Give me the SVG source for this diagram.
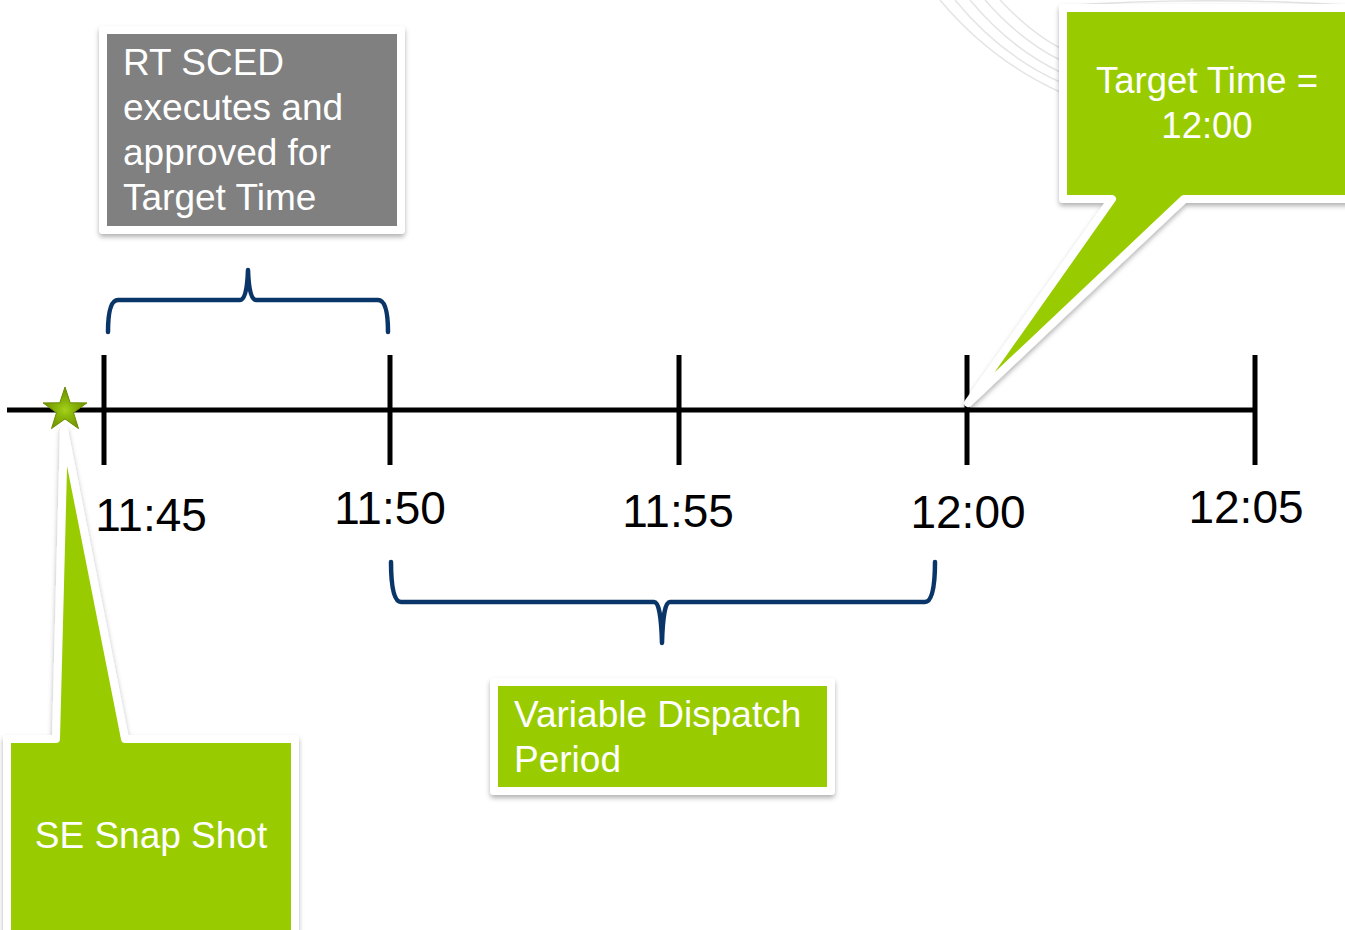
<svg xmlns="http://www.w3.org/2000/svg" width="1345" height="930" viewBox="0 0 1345 930">
  <style>
    .lbl { font-family: "Liberation Sans", Arial, sans-serif; }
    .tick { font-size: 46px; fill: #000; text-anchor: middle; }
    .wt { fill: #fff; font-size: 37px; }
    .box { stroke: #fff; stroke-width: 8; stroke-linejoin: round; filter: url(#sh); }
    .axis { stroke: #000; stroke-width: 5; fill: none; }
    .brace { stroke: #0a3569; stroke-width: 4.5; fill: none; stroke-linecap: round; stroke-linejoin: round; }
    .arc { stroke: #e4e4e4; stroke-width: 1.5; fill: none; }
  </style>
  <defs>
    <filter id="sh" x="-10%" y="-10%" width="120%" height="130%">
      <feDropShadow dx="0" dy="3" stdDeviation="2.5" flood-color="#000" flood-opacity="0.3"/>
    </filter>
    <radialGradient id="starg" cx="0.5" cy="0.55" r="0.5">
      <stop offset="0" stop-color="#a6d21a"/>
      <stop offset="0.35" stop-color="#8cb80c"/>
      <stop offset="1" stop-color="#6f9300"/>
    </radialGradient>
  </defs>
  <rect width="1345" height="930" fill="#fff"/>
  <g id="background">
    <path class="arc" d="M940,0 Q990,60 1060,92"/>
    <path class="arc" d="M955,0 Q1000,55 1060,82"/>
    <path class="arc" d="M970,0 Q1010,48 1060,72"/>
    <path class="arc" d="M985,0 Q1020,40 1060,60"/>
    <path class="arc" d="M1000,0 Q1030,32 1060,48"/>
    <path class="arc" d="M1060,6 Q1200,-4 1345,5"/>
  </g>
  <g id="connectors">
    <line class="axis" x1="7" y1="410" x2="1257" y2="410"/>
    <line class="axis" x1="104" y1="355" x2="104" y2="465"/>
    <line class="axis" x1="390" y1="355" x2="390" y2="465"/>
    <line class="axis" x1="679" y1="355" x2="679" y2="465"/>
    <line class="axis" x1="967" y1="355" x2="967" y2="465"/>
    <line class="axis" x1="1255" y1="355" x2="1255" y2="465"/>
    <path class="brace" d="M108,332 Q108,300 118,300 L240,300 Q247,300 248,270 Q249,300 256,300 L378,300 Q388,300 388,332"/>
    <path class="brace" d="M391,562 Q391,602 401,602 L654,602 Q661,602 662,643 Q663,602 670,602 L925,602 Q935,602 935,562"/>
  </g>
  <g id="tick-labels" class="lbl">
    <text class="tick" x="151" y="531">11:45</text>
    <text class="tick" x="390" y="524">11:50</text>
    <text class="tick" x="678" y="527">11:55</text>
    <text class="tick" x="968" y="528">12:00</text>
    <text class="tick" x="1246" y="523">12:05</text>
  </g>
  <g id="rt-sced">
    <rect class="box" x="103" y="30" width="298" height="200" fill="#808080"/>
    <text class="lbl wt" x="123" y="75">RT SCED</text>
    <text class="lbl wt" x="123" y="120">executes and</text>
    <text class="lbl wt" x="123" y="165">approved for</text>
    <text class="lbl wt" x="123" y="210">Target Time</text>
  </g>
  <g id="variable-dispatch">
    <rect class="box" x="494" y="682" width="337" height="109" fill="#99cc00"/>
    <text class="lbl wt" x="514" y="727">Variable Dispatch</text>
    <text class="lbl wt" x="514" y="772">Period</text>
  </g>
  <g id="target-time">
    <path class="box" d="M1063,8 L1360,8 L1360,199 L1184,199 L968,403 L1112,199 L1063,199 Z" fill="#99cc00"/>
    <text class="lbl wt" x="1207" y="93" text-anchor="middle" style="font-size:36.5px">Target Time =</text>
    <text class="lbl wt" x="1207" y="138" text-anchor="middle" style="font-size:36.5px">12:00</text>
  </g>
  <g id="se-snap-shot">
    <path class="box" d="M7,739 L56,739 L64,430 L125,739 L295,739 L295,940 L7,940 Z" fill="#99cc00"/>
    <text class="lbl wt" x="151" y="848" text-anchor="middle">SE Snap Shot</text>
  </g>
  <g id="star">
    <polygon points="65,387 70.2,402.8 86.9,402.9 73.5,412.7 78.5,428.6 65,418.9 51.5,428.6 56.5,412.7 43.1,402.9 59.8,402.8" fill="url(#starg)" stroke="#6a8c00" stroke-width="1"/>
  </g>
</svg>
